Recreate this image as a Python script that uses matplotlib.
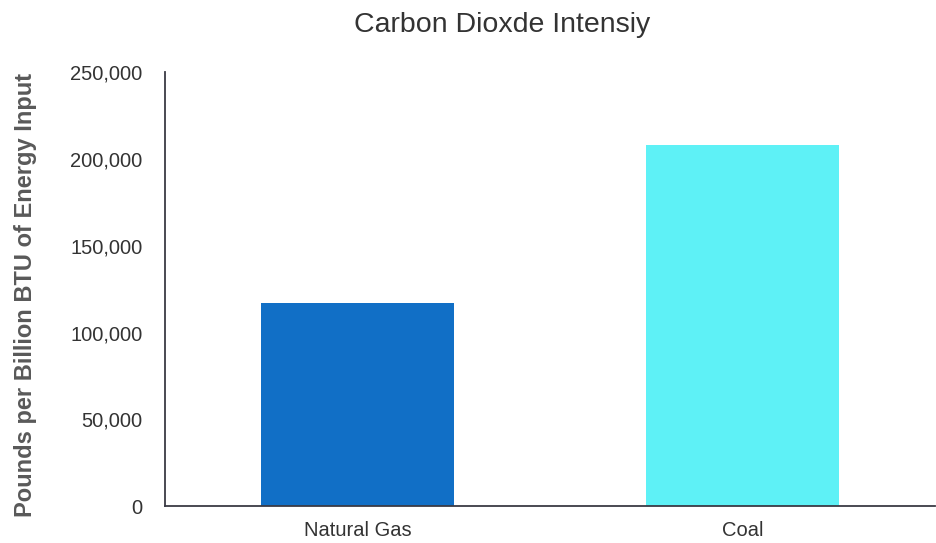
import matplotlib
matplotlib.use("Agg")
import matplotlib.pyplot as plt
from matplotlib.ticker import FuncFormatter

plt.rcParams['font.family'] = ['Liberation Sans', 'DejaVu Sans']

# Carbon dioxide emitted per billion BTU of energy input
fuels = ["Natural Gas", "Coal"]
co2_lbs = [117000, 208000]
bar_colors = ["#116FC6", "#5EF1F6"]
y_ticks = [0, 50000, 100000, 150000, 200000, 250000]

fig = plt.figure(figsize=(9.36, 5.43), dpi=100)
ax = fig.add_axes([0.176, 0.068, 0.823, 0.799])

x = range(len(fuels))
ax.bar(x, co2_lbs, width=0.5, color=bar_colors, zorder=2)

ax.set_xlim(-0.5, len(fuels) - 0.5)
ax.set_ylim(0, 250000)
ax.set_yticks(y_ticks)
ax.yaxis.set_major_formatter(FuncFormatter(lambda v, p: f"{int(v):,}"))
ax.set_xticks(list(x))
ax.set_xticklabels(fuels)

text_col = "#333333"
spine_col = "#3a3a44"
for side in ("top", "right"):
    ax.spines[side].set_visible(False)
for side in ("left", "bottom"):
    ax.spines[side].set_color(spine_col)
    ax.spines[side].set_linewidth(1.3)

ax.tick_params(axis="both", length=0, labelsize=14.5, colors=text_col)
ax.tick_params(axis="y", pad=16)
ax.tick_params(axis="x", pad=11)

fig.text(502 / 936, 1 - 32 / 543, "Carbon Dioxde Intensiy", ha="center",
         va="baseline", fontsize=20.5, color=text_col)
fig.text(26 / 936, 1 - 295 / 543, "Pounds per Billion BTU of Energy Input",
         rotation=90, ha="center", va="center", fontsize=17,
         fontweight="bold", color="#595959")

fig.savefig("out.png", dpi=100, facecolor="white")
